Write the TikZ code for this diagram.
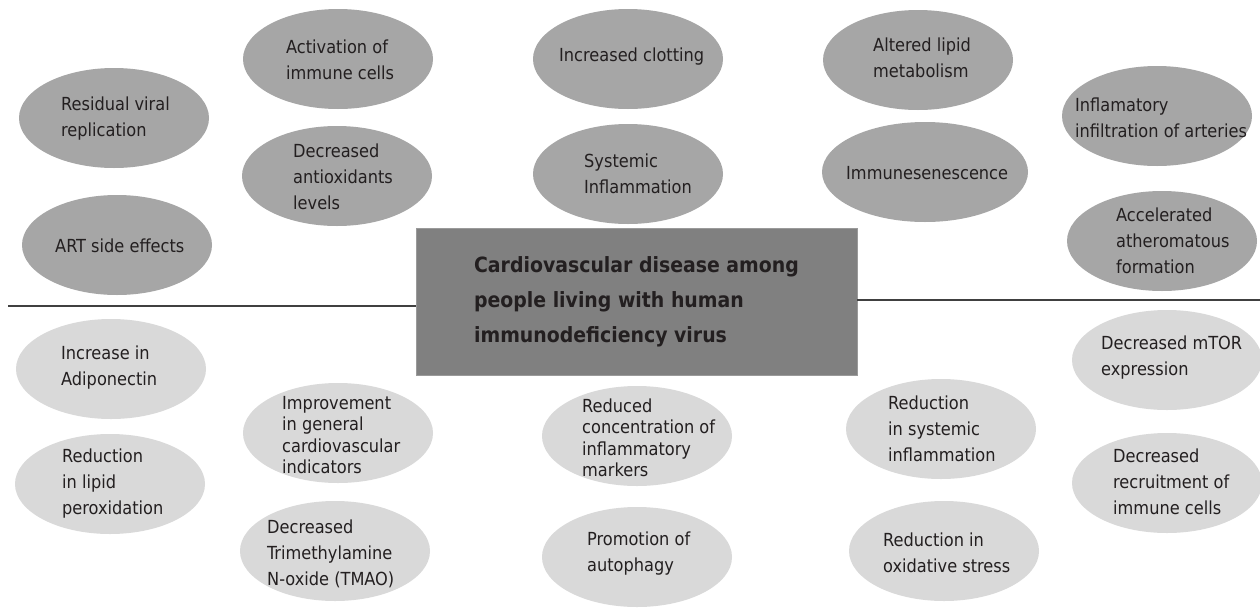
\documentclass[tikz,border=0pt]{standalone}
\usepackage{fontspec}
\usetikzlibrary{shapes.geometric}
\newfontfamily\ellfont{DejaVu Sans Condensed}
\newfontfamily\boxfont{DejaVu Sans Condensed Bold}
\definecolor{darkell}{HTML}{A6A6A6}
\definecolor{lightell}{HTML}{D9D9D9}
\definecolor{boxfill}{HTML}{808080}
\definecolor{boxedge}{HTML}{9A9A9A}
\definecolor{txt}{HTML}{231F20}
\definecolor{rule}{HTML}{404040}
\tikzset{
  ell/.style={ellipse, minimum width=190pt, minimum height=100pt, inner sep=0pt, draw=none},
  topell/.style={ell, fill=darkell},
  botell/.style={ell, fill=lightell},
  lbl/.style={anchor=west, inner sep=0pt, align=left, text=txt, font=\ellfont\fontsize{18}{26}\selectfont},
  tight/.style={font=\ellfont\fontsize{18}{21.5}\selectfont},
  mainbox/.style={rectangle, fill=boxfill, draw=boxedge, line width=0.8pt, minimum width=441pt, minimum height=147pt, align=left, text=txt, font=\boxfont\fontsize{21}{35}\selectfont},
  rulestyle/.style={draw=rule, line width=1.3pt}
}
\begin{document}
\begin{tikzpicture}[x=1pt, y=-1pt]
\useasboundingbox[fill=white] (0,0) rectangle (1260,608);
% dark ellipses
\node[topell] (e1) at (114,118) {};
\node[topell] (e2) at (117,245) {};
\node[topell] (e3) at (338,59) {};
\node[topell] (e4) at (337,176) {};
\node[topell] (e5) at (628,59) {};
\node[topell] (e6) at (628,174) {};
\node[topell] (e7) at (918,60) {};
\node[topell, minimum width=206pt] (e8) at (925,172) {};
\node[topell] (e9) at (1157,116) {};
\node[topell] (e10) at (1162,241) {};
% light ellipses
\node[botell] (e11) at (111,369) {};
\node[botell] (e12) at (110,484) {};
\node[botell] (e13) at (338,433) {};
\node[botell] (e14) at (335,551) {};
\node[botell] (e15) at (637,436) {};
\node[botell] (e16) at (637,557) {};
\node[botell] (e17) at (941,429) {};
\node[botell] (e18) at (944,551) {};
\node[botell] (e19) at (1167,360) {};
\node[botell] (e20) at (1167,483) {};
% labels
\node[lbl] (t1) at (61,119) {Residual viral\\replication};
\node[lbl] (t2) at (55,246) {ART side effects};
\node[lbl] (t3) at (286,60) {Activation of\\immune cells};
\node[lbl] (t4) at (293,177) {Decreased\\antioxidants\\levels};
\node[lbl] (t5) at (559,57) {Increased clotting};
\node[lbl] (t6) at (584,174) {Systemic\\Inflammation};
\node[lbl] (t7) at (873,58) {Altered lipid\\metabolism};
\node[lbl] (t8) at (846,173) {Immunesenescence};
\node[lbl] (t9) at (1075,118) {Inflamatory\\infiltration of arteries};
\node[lbl] (t10) at (1116,241) {Accelerated\\atheromatous\\formation};
\node[lbl] (t11) at (61,368) {Increase in\\Adiponectin};
\node[lbl] (t12) at (62,484) {Reduction\\in lipid\\peroxidation};
\node[lbl, tight] (t13) at (282,435) {Improvement\\in general\\cardiovascular\\indicators};
\node[lbl] (t14) at (267,554) {Decreased\\Trimethylamine\\N-oxide (TMAO)};
\node[lbl, tight] (t15) at (582,438) {Reduced\\concentration of\\inflammatory\\markers};
\node[lbl] (t16) at (587,554) {Promotion of\\autophagy};
\node[lbl] (t17) at (888,429) {Reduction\\in systemic\\inflammation};
\node[lbl] (t18) at (883,553) {Reduction in\\oxidative stress};
\node[lbl] (t19) at (1101,358) {Decreased mTOR\\expression};
\node[lbl] (t20) at (1113,482) {Decreased\\recruitment of\\immune cells};
% central box
\node[mainbox] (box) at (636.5,301.5) {Cardiovascular disease among\\people living with human\\immunodeficiency virus};
% divider lines
\coordinate (lstart) at (8,306);
\coordinate (rend) at (1260,300);
\draw[rulestyle] (lstart) -- (lstart -| box.west);
\draw[rulestyle] (box.east |- rend) -- (rend);
\end{tikzpicture}
\end{document}
